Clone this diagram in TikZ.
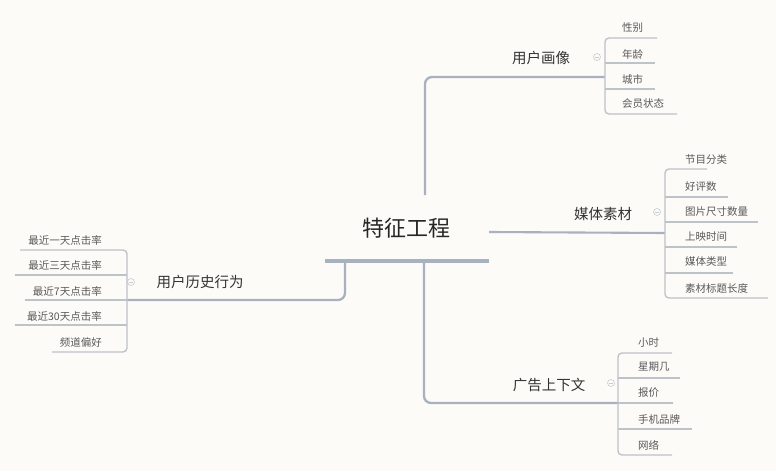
\documentclass[tikz,border=0pt]{standalone}
\usepackage{fontspec}
\setmainfont{Noto Sans CJK SC}
\definecolor{bgc}{RGB}{253,251,248}
\definecolor{mainc}{RGB}{168,177,192}
\definecolor{leafc}{RGB}{190,194,201}
\definecolor{foldc}{RGB}{200,204,210}
\begin{document}
\begin{tikzpicture}[x=1pt,y=-1pt,
  root/.style={font=\fontsize{22}{26}\selectfont, text=black!85, inner sep=0pt},
  branch/.style={font=\fontsize{14.5}{17}\selectfont, text=black!80, inner sep=0pt},
  leaf/.style={font=\fontsize{10.5}{12}\selectfont, text=black!65, inner sep=0pt},
  rootline/.style={draw=mainc, line width=3.2pt},
  mainline/.style={draw=mainc, line width=2.3pt, rounded corners=7pt},
  leafline/.style={draw=leafc, line width=1.4pt, rounded corners=4pt},
  fold/.style={circle, draw=foldc, line width=0.6pt, inner sep=0pt, minimum size=7pt}
]
\fill[bgc] (0,0) rectangle (776,471);
\useasboundingbox (0,0) rectangle (776,471);

% root
\node[root] (root) at (406,228) {特征工程};
\coordinate (rl) at (325,261);
\coordinate (rr) at (489,261);
\draw[rootline] (rl) -- (rr);

% branch: 用户画像
\node[branch] (b1) at (541,58) {用户画像};
\coordinate (b1s) at (425,195);
\coordinate (b1e) at (605,77);
\draw[mainline] (b1s) |- (b1e);
\node[fold] (f1) at (597,57) {};
\draw[foldc, line width=0.6pt] (f1.west) ++(1.5,0) -- ++(4,0);
\node[leaf, anchor=west] (l11) at (622,28) {性别};
\node[leaf, anchor=west] (l12) at (622,54) {年龄};
\node[leaf, anchor=west] (l13) at (622,79) {城市};
\node[leaf, anchor=west] (l14) at (622,104) {会员状态};
\coordinate (u11) at (657,38);
\coordinate (u12) at (655,63);
\coordinate (u13) at (655,89);
\coordinate (u14) at (677,114);
\draw[leafline] (u11) -| (b1e) |- (u14);
\draw[leafline] (b1e |- u12) -- (u12);
\draw[leafline] (b1e |- u13) -- (u13);

% branch: 媒体素材
\node[branch] (b2) at (603,214) {媒体素材};
\coordinate (b2s) at (489,232);
\coordinate (b2e) at (665,233);
\draw[mainline, line width=2.1pt] (b2s) -- (b2e);
\node[fold] (f2) at (657,212) {};
\draw[foldc, line width=0.6pt] (f2.west) ++(1.5,0) -- ++(4,0);
\node[leaf, anchor=west] (l21) at (685,160) {节目分类};
\node[leaf, anchor=west] (l22) at (685,187) {好评数};
\node[leaf, anchor=west] (l23) at (685,212) {图片尺寸数量};
\node[leaf, anchor=west] (l24) at (685,237) {上映时间};
\node[leaf, anchor=west] (l25) at (685,262) {媒体类型};
\node[leaf, anchor=west] (l26) at (685,288) {素材标题长度};
\coordinate (u21) at (707,169);
\coordinate (u22) at (728,197);
\coordinate (u23) at (758,222);
\coordinate (u24) at (737,247);
\coordinate (u25) at (733,273);
\coordinate (u26) at (768,298);
\draw[leafline] (u21) -| (b2e) |- (u26);
\draw[leafline] (b2e |- u22) -- (u22);
\draw[leafline] (b2e |- u23) -- (u23);
\draw[leafline] (b2e |- u24) -- (u24);
\draw[leafline] (b2e |- u25) -- (u25);

% branch: 广告上下文
\node[branch] (b3) at (549,385) {广告上下文};
\coordinate (b3s) at (424,261);
\coordinate (b3e) at (618,403);
\draw[mainline] (b3s) |- (b3e);
\node[fold] (f3) at (611,383) {};
\draw[foldc, line width=0.6pt] (f3.west) ++(1.5,0) -- ++(4,0);
\node[leaf, anchor=west] (l31) at (638,343) {小时};
\node[leaf, anchor=west] (l32) at (638,367) {星期几};
\node[leaf, anchor=west] (l33) at (638,393) {报价};
\node[leaf, anchor=west] (l34) at (638,419) {手机品牌};
\node[leaf, anchor=west] (l35) at (638,445) {网络};
\coordinate (u31) at (672,353);
\coordinate (u32) at (680,378);
\coordinate (u33) at (673,403);
\coordinate (u34) at (692,429);
\coordinate (u35) at (672,455);
\draw[leafline] (u31) -| (b3e) |- (u35);
\draw[leafline] (b3e |- u32) -- (u32);
\draw[leafline] (b3e) -- (u33);
\draw[leafline] (b3e |- u34) -- (u34);

% branch: 用户历史行为
\node[branch] (b4) at (200,282) {用户历史行为};
\coordinate (b4s) at (345,261);
\coordinate (b4e) at (127,300);
\draw[mainline] (b4s) |- (b4e);
\node[fold] (f4) at (131,282) {};
\draw[foldc, line width=0.6pt] (f4.west) ++(1.5,0) -- ++(4,0);
\node[leaf, anchor=east] (l41) at (102,240) {最近一天点击率};
\node[leaf, anchor=east] (l42) at (102,265) {最近三天点击率};
\node[leaf, anchor=east] (l43) at (102,291) {最近7天点击率};
\node[leaf, anchor=east] (l44) at (102,316) {最近30天点击率};
\node[leaf, anchor=east] (l45) at (102,342) {频道偏好};
\coordinate (u41) at (20,250);
\coordinate (u42) at (15,275);
\coordinate (u43) at (25,300);
\coordinate (u44) at (15,325);
\coordinate (u45) at (52,352);
\draw[leafline] (u41) -| (b4e) |- (u45);
\draw[leafline] (b4e |- u42) -- (u42);
\draw[leafline] (b4e) -- (u43);
\draw[leafline] (b4e |- u44) -- (u44);
\end{tikzpicture}
\end{document}
